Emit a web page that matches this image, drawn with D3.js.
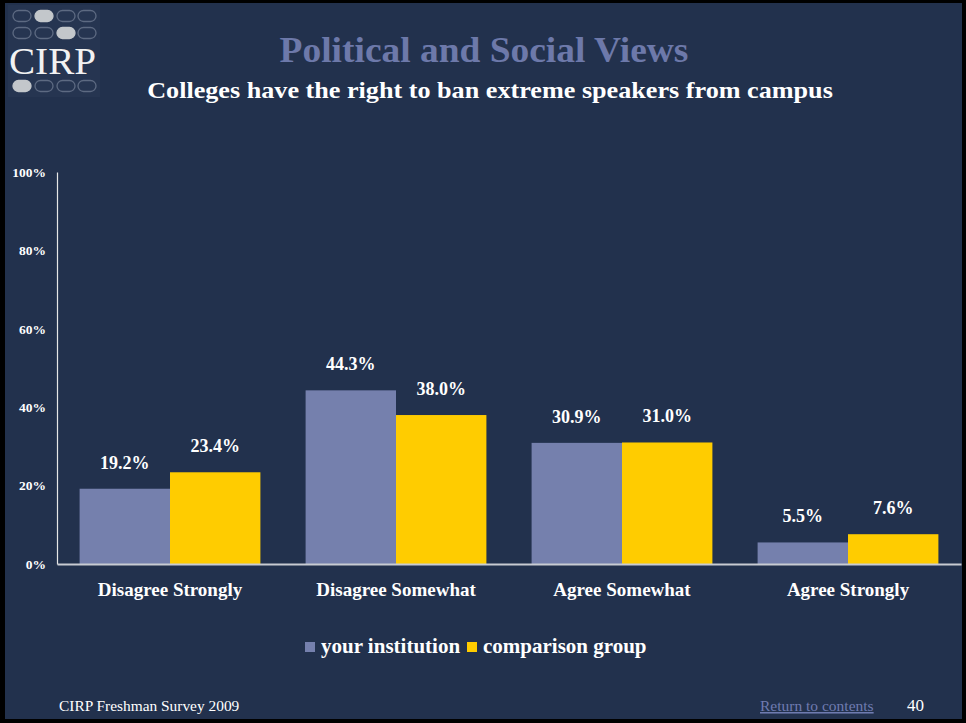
<!DOCTYPE html>
<html>
<head>
<meta charset="utf-8">
<script src="https://cdn.jsdelivr.net/npm/d3@7"></script>
<style>
html,body{margin:0;padding:0;background:#000;}
svg{display:block;}
</style>
</head>
<body>
<script>
const categories = ["Disagree Strongly", "Disagree Somewhat", "Agree Somewhat", "Agree Strongly"];
const yourInstitution = [19.2, 44.3, 30.9, 5.5];
const comparisonGroup = [23.4, 38.0, 31.0, 7.6];
const seriesNames = ["your institution", "comparison group"];
const yTicks = [0, 20, 40, 60, 80, 100];

const W = 966, H = 723;
const bg = "#22314d";
const colors = ["#7580ad", "#ffcc00"];
const serif = "'Liberation Serif', 'Times New Roman', serif";

function widen(sel, factor) {
  sel.each(function() {
    const len = this.getComputedTextLength();
    d3.select(this).attr("textLength", len * factor).attr("lengthAdjust", "spacingAndGlyphs");
  });
}

const svg = d3.select("body").append("svg").attr("width", W).attr("height", H);
svg.append("rect").attr("width", W).attr("height", H).attr("fill", "#000");
svg.append("rect").attr("x", 5).attr("y", 3).attr("width", 957).attr("height", 716).attr("fill", bg);

// Logo
const logo = svg.append("g");
logo.append("rect").attr("x", 8).attr("y", 5).attr("width", 92).attr("height", 92).attr("fill", "#263551");
const ovalRows = [16, 33, 86];
const filled = [[0,1],[1,2],[2,0]];
ovalRows.forEach((cy, r) => {
  [22, 44, 66, 87].forEach((cx, c) => {
    const isF = filled.some(f => f[0] === r && f[1] === c);
    logo.append("rect").attr("x", cx - 9).attr("y", cy - 5.5).attr("width", 18).attr("height", 11)
      .attr("rx", 5.5).attr("ry", 5.5)
      .attr("fill", isF ? "#c3c7cb" : "none")
      .attr("stroke", isF ? "#c3c7cb" : "#5d6a82").attr("stroke-width", 1.3);
  });
});
logo.append("text").attr("x", 9).attr("y", 74).attr("font-family", serif).attr("font-size", 38)
  .attr("fill", "#f2f2f2").attr("textLength", 87).attr("lengthAdjust", "spacingAndGlyphs").text("CIRP");

// Titles
svg.append("text").attr("x", 484).attr("y", 62).attr("text-anchor", "middle")
  .attr("font-family", serif).attr("font-weight", "bold").attr("font-size", 36).attr("fill", "#6d79aa")
  .text("Political and Social Views").call(widen, 1.04);
svg.append("text").attr("x", 490).attr("y", 98).attr("text-anchor", "middle")
  .attr("font-family", serif).attr("font-weight", "bold").attr("font-size", 24).attr("fill", "#ffffff")
  .text("Colleges have the right to ban extreme speakers from campus").call(widen, 1.09);

// Scales
const x0 = d3.scaleBand().domain(categories).range([57, 961]).paddingInner(0.2).paddingOuter(0.1);
const x1 = d3.scaleBand().domain(seriesNames).range([0, x0.bandwidth()]);
const y = d3.scaleLinear().domain([0, 100]).range([564, 172]);

// Bars
const data = categories.map((c, i) => ({cat: c, vals: [yourInstitution[i], comparisonGroup[i]]}));
const g = svg.append("g");
const groups = g.selectAll("g.grp").data(data).enter().append("g")
  .attr("transform", d => `translate(${x0(d.cat)},0)`);
groups.selectAll("rect").data(d => d.vals.map((v, k) => ({v, k}))).enter().append("rect")
  .attr("x", d => x1(seriesNames[d.k]))
  .attr("y", d => y(d.v))
  .attr("width", x1.bandwidth())
  .attr("height", d => y(0) - y(d.v))
  .attr("fill", d => colors[d.k]);
groups.selectAll("text").data(d => d.vals.map((v, k) => ({v, k}))).enter().append("text")
  .attr("x", d => x1(seriesNames[d.k]) + x1.bandwidth() / 2)
  .attr("y", d => y(d.v) - 20)
  .attr("text-anchor", "middle")
  .attr("font-family", serif).attr("font-weight", "bold").attr("font-size", 18).attr("fill", "#ffffff")
  .text(d => d.v.toFixed(1) + "%");

// Y axis
const yAxis = d3.axisLeft(y).tickValues(yTicks).tickSize(0).tickPadding(11).tickFormat(d => d + "%");
const ya = svg.append("g").attr("transform", "translate(57,0)").call(yAxis);
ya.select(".domain").attr("stroke", "#e6e6e6").attr("stroke-width", 1.2);
ya.selectAll("text").attr("font-family", serif).attr("font-weight", "bold").attr("font-size", 13.5).attr("fill", "#ffffff");

// X axis
const xAxis = d3.axisBottom(x0).tickSize(0).tickPadding(18.5);
const xa = svg.append("g").attr("transform", "translate(0,564)").call(xAxis);
xa.select(".domain").attr("stroke", "#c8cbd2").attr("stroke-width", 2);
xa.selectAll("text").attr("font-family", serif).attr("font-weight", "bold").attr("font-size", 19).attr("fill", "#ffffff");

// Legend
const leg = svg.append("g");
const legendItems = [{x: 305, name: seriesNames[0]}, {x: 467, name: seriesNames[1]}];
legendItems.forEach((it, i) => {
  leg.append("rect").attr("x", it.x).attr("y", 642).attr("width", 10).attr("height", 10).attr("fill", colors[i]);
  leg.append("text").attr("x", it.x + 16).attr("y", 653).attr("font-family", serif).attr("font-weight", "bold")
    .attr("font-size", 21).attr("fill", "#ffffff").text(it.name);
});

// Footer
svg.append("text").attr("x", 59).attr("y", 711).attr("font-family", serif).attr("font-size", 15.4)
  .attr("fill", "#ffffff").text("CIRP Freshman Survey 2009");
svg.append("text").attr("x", 760).attr("y", 711).attr("font-family", serif).attr("font-size", 15.5)
  .attr("fill", "#6f7bb0").attr("text-decoration", "underline").text("Return to contents");
svg.append("text").attr("x", 907).attr("y", 711).attr("font-family", serif).attr("font-size", 17)
  .attr("fill", "#ffffff").text("40");
</script>
</body>
</html>
